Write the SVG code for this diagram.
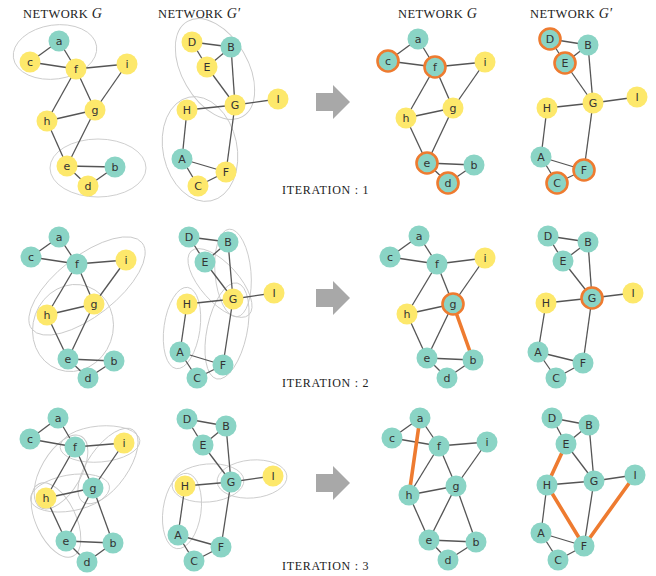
<svg xmlns="http://www.w3.org/2000/svg" width="656" height="576" viewBox="0 0 656 576">
<style>
.t{fill:#8ad4c5}
.y{fill:#fde86b}
.r{stroke:#ee7b30;stroke-width:2.6}
.lb{font-family:"DejaVu Sans",Verdana,sans-serif;font-size:11px;fill:#333;text-anchor:middle;dominant-baseline:central}
.e line{stroke:#555;stroke-width:1.3}
.o{stroke:#ee7b30 !important;stroke-width:3.6 !important;stroke-linecap:round}
.hull ellipse{fill:none;stroke:#c9c9c9;stroke-width:0.9}
.ttl{font-family:"Liberation Serif","Times New Roman",serif;font-size:12.5px;fill:#222;letter-spacing:0.4px}
.ttl tspan.it{font-style:italic;font-size:14px;letter-spacing:0}
.it2{font-family:"Liberation Serif","Times New Roman",serif;font-size:12px;fill:#222;letter-spacing:0.7px}
.arr{fill:#a8a8a8}
</style>

<g id="titles">
<text class="ttl" x="23" y="18">NETWORK <tspan class="it">G</tspan></text>
<text class="ttl" x="158" y="18">NETWORK <tspan class="it">G′</tspan></text>
<text class="ttl" x="398" y="18">NETWORK <tspan class="it">G</tspan></text>
<text class="ttl" x="530" y="18">NETWORK <tspan class="it">G′</tspan></text>
<text class="it2" x="282" y="194">ITERATION : 1</text>
<text class="it2" x="282" y="387">ITERATION : 2</text>
<text class="it2" x="282" y="570">ITERATION : 3</text>
</g>

<g id="arrows">
<polygon class="arr" points="316,93 333,93 333,85 350,102 333,119 333,111 316,111"/>
<polygon class="arr" points="316,289 333,289 333,281 350,298 333,315 333,307 316,307"/>
<polygon class="arr" points="316,474 333,474 333,466 350,483 333,500 333,492 316,492"/>
</g>

<!-- hulls -->
<g id="hulls" class="hull">
<ellipse cx="55" cy="52" rx="42" ry="27" transform="rotate(-8 55 52)"/>
<ellipse cx="98" cy="168" rx="48" ry="29"/>
<ellipse cx="215" cy="69" rx="55" ry="33" transform="rotate(60 215 69)"/>
<ellipse cx="200" cy="149" rx="37" ry="53" transform="rotate(-12 200 149)"/>

<ellipse cx="87" cy="286" rx="70" ry="30" transform="rotate(-38 87 286)"/>
<ellipse cx="73" cy="328" rx="40" ry="44" transform="rotate(20 73 328)"/>
<ellipse cx="220" cy="283" rx="43" ry="19" transform="rotate(48 220 283)"/>
<ellipse cx="233" cy="273" rx="18" ry="44" transform="rotate(-5 233 273)"/>
<ellipse cx="182" cy="328" rx="18" ry="41" transform="rotate(8 182 328)"/>
<ellipse cx="227" cy="331" rx="20" ry="49" transform="rotate(12 227 331)"/>

<ellipse cx="100" cy="444" rx="40" ry="18" transform="rotate(-5 100 444)"/>
<ellipse cx="61" cy="472" rx="41" ry="20" transform="rotate(-60 61 472)"/>
<ellipse cx="108" cy="466" rx="44" ry="20" transform="rotate(-55 108 466)"/>
<ellipse cx="70" cy="493" rx="40" ry="18" transform="rotate(-10 70 493)"/>
<ellipse cx="56" cy="520" rx="40" ry="20" transform="rotate(65 56 520)"/>
<ellipse cx="252" cy="479" rx="35" ry="19" transform="rotate(-5 252 479)"/>
<ellipse cx="208" cy="483" rx="36" ry="19" transform="rotate(-5 208 483)"/>
<ellipse cx="182" cy="511" rx="19" ry="38" transform="rotate(8 182 511)"/>
</g>

<g id="connectors" class="e">
<!-- row1 G -->
<line x1="59" y1="41" x2="30" y2="62"/><line x1="59" y1="41" x2="76" y2="69"/><line x1="30" y1="62" x2="76" y2="69"/>
<line x1="76" y1="69" x2="127" y2="64"/><line x1="76" y1="69" x2="47" y2="121"/><line x1="76" y1="69" x2="95" y2="110"/>
<line x1="127" y1="64" x2="95" y2="110"/><line x1="47" y1="121" x2="95" y2="110"/><line x1="47" y1="121" x2="67" y2="166"/>
<line x1="95" y1="110" x2="67" y2="166"/><line x1="67" y1="166" x2="115" y2="167"/><line x1="67" y1="166" x2="88" y2="186"/><line x1="88" y1="186" x2="115" y2="167"/>
<!-- row1 G' -->
<line x1="192" y1="42" x2="231" y2="47"/><line x1="192" y1="42" x2="207" y2="67"/><line x1="207" y1="67" x2="231" y2="47"/>
<line x1="231" y1="47" x2="235" y2="105"/><line x1="207" y1="67" x2="235" y2="105"/><line x1="235" y1="105" x2="278" y2="99"/>
<line x1="187" y1="110" x2="235" y2="105"/><line x1="187" y1="110" x2="182" y2="159"/><line x1="235" y1="105" x2="226" y2="172"/>
<line x1="182" y1="159" x2="226" y2="172"/><line x1="182" y1="159" x2="198" y2="186"/><line x1="198" y1="186" x2="226" y2="172"/>
<!-- row1 G right -->
<line x1="418" y1="39" x2="388" y2="61"/><line x1="418" y1="39" x2="435" y2="67"/><line x1="388" y1="61" x2="435" y2="67"/>
<line x1="435" y1="67" x2="485" y2="62"/><line x1="435" y1="67" x2="406" y2="118"/><line x1="435" y1="67" x2="453" y2="108"/>
<line x1="485" y1="62" x2="453" y2="108"/><line x1="406" y1="118" x2="453" y2="108"/><line x1="406" y1="118" x2="427" y2="163"/>
<line x1="453" y1="108" x2="427" y2="163"/><line x1="427" y1="163" x2="474" y2="165"/><line x1="427" y1="163" x2="448" y2="183"/><line x1="448" y1="183" x2="474" y2="165"/>
<!-- row1 G' right -->
<line x1="550" y1="39" x2="588" y2="45"/><line x1="550" y1="39" x2="565" y2="63"/><line x1="565" y1="63" x2="588" y2="45"/>
<line x1="588" y1="45" x2="593" y2="103"/><line x1="565" y1="63" x2="593" y2="103"/><line x1="593" y1="103" x2="637" y2="97"/>
<line x1="547" y1="108" x2="593" y2="103"/><line x1="547" y1="108" x2="541" y2="157"/><line x1="593" y1="103" x2="584" y2="170"/>
<line x1="541" y1="157" x2="584" y2="170"/><line x1="541" y1="157" x2="557" y2="183"/><line x1="557" y1="183" x2="584" y2="170"/>

<!-- row2 G -->
<line x1="59" y1="237" x2="31" y2="257"/><line x1="59" y1="237" x2="77" y2="264"/><line x1="31" y1="257" x2="77" y2="264"/>
<line x1="77" y1="264" x2="126" y2="260"/><line x1="77" y1="264" x2="47" y2="315"/><line x1="77" y1="264" x2="94" y2="304"/>
<line x1="126" y1="260" x2="94" y2="304"/><line x1="47" y1="315" x2="94" y2="304"/><line x1="47" y1="315" x2="68" y2="359"/>
<line x1="94" y1="304" x2="68" y2="359"/><line x1="68" y1="359" x2="114" y2="361"/><line x1="68" y1="359" x2="88" y2="378"/><line x1="88" y1="378" x2="114" y2="361"/>
<!-- row2 G' -->
<line x1="189" y1="237" x2="228" y2="242"/><line x1="189" y1="237" x2="205" y2="262"/><line x1="205" y1="262" x2="228" y2="242"/>
<line x1="228" y1="242" x2="233" y2="299"/><line x1="205" y1="262" x2="233" y2="299"/><line x1="233" y1="299" x2="274" y2="293"/>
<line x1="187" y1="304" x2="233" y2="299"/><line x1="187" y1="304" x2="180" y2="352"/><line x1="233" y1="299" x2="223" y2="365"/>
<line x1="180" y1="352" x2="223" y2="365"/><line x1="180" y1="352" x2="197" y2="378"/><line x1="197" y1="378" x2="223" y2="365"/>
<!-- row2 G right -->
<line x1="419" y1="236" x2="390" y2="257"/><line x1="419" y1="236" x2="437" y2="264"/><line x1="390" y1="257" x2="437" y2="264"/>
<line x1="437" y1="264" x2="485" y2="258"/><line x1="437" y1="264" x2="407" y2="314"/><line x1="437" y1="264" x2="453" y2="304"/>
<line x1="485" y1="258" x2="453" y2="304"/><line x1="407" y1="314" x2="453" y2="304"/><line x1="407" y1="314" x2="427" y2="358"/>
<line x1="453" y1="304" x2="427" y2="358"/><line x1="427" y1="358" x2="473" y2="360"/><line x1="427" y1="358" x2="447" y2="378"/><line x1="447" y1="378" x2="473" y2="360"/>
<line class="o" x1="453" y1="304" x2="473" y2="360"/>
<!-- row2 G' right -->
<line x1="548" y1="236" x2="588" y2="242"/><line x1="548" y1="236" x2="563" y2="261"/><line x1="563" y1="261" x2="588" y2="242"/>
<line x1="588" y1="242" x2="592" y2="298"/><line x1="563" y1="261" x2="592" y2="298"/><line x1="592" y1="298" x2="633" y2="293"/>
<line x1="546" y1="303" x2="592" y2="298"/><line x1="546" y1="303" x2="538" y2="352"/><line x1="592" y1="298" x2="583" y2="363"/>
<line x1="538" y1="352" x2="583" y2="363"/><line x1="538" y1="352" x2="556" y2="378"/><line x1="556" y1="378" x2="583" y2="363"/>

<!-- row3 G -->
<line x1="58" y1="418" x2="30" y2="439"/><line x1="58" y1="418" x2="75" y2="447"/><line x1="30" y1="439" x2="75" y2="447"/>
<line x1="75" y1="447" x2="124" y2="443"/><line x1="75" y1="447" x2="46" y2="498"/><line x1="75" y1="447" x2="93" y2="488"/>
<line x1="124" y1="443" x2="93" y2="488"/><line x1="46" y1="498" x2="93" y2="488"/><line x1="46" y1="498" x2="66" y2="541"/>
<line x1="93" y1="488" x2="66" y2="541"/><line x1="93" y1="488" x2="113" y2="543"/><line x1="66" y1="541" x2="113" y2="543"/><line x1="66" y1="541" x2="87" y2="562"/><line x1="87" y1="562" x2="113" y2="543"/>
<!-- row3 G' -->
<line x1="187" y1="419" x2="226" y2="426"/><line x1="187" y1="419" x2="203" y2="445"/><line x1="203" y1="445" x2="226" y2="426"/>
<line x1="226" y1="426" x2="231" y2="482"/><line x1="203" y1="445" x2="231" y2="482"/><line x1="231" y1="482" x2="273" y2="476"/>
<line x1="185" y1="486" x2="231" y2="482"/><line x1="185" y1="486" x2="178" y2="535"/><line x1="231" y1="482" x2="221" y2="547"/>
<line x1="178" y1="535" x2="221" y2="547"/><line x1="178" y1="535" x2="194" y2="561"/><line x1="194" y1="561" x2="221" y2="547"/>
<!-- row3 G right -->
<line x1="420" y1="418" x2="392" y2="438"/><line x1="420" y1="418" x2="439" y2="446"/><line x1="392" y1="438" x2="439" y2="446"/>
<line x1="439" y1="446" x2="487" y2="442"/><line x1="439" y1="446" x2="409" y2="495"/><line x1="439" y1="446" x2="456" y2="486"/>
<line x1="487" y1="442" x2="456" y2="486"/><line x1="409" y1="495" x2="456" y2="486"/><line x1="409" y1="495" x2="429" y2="540"/>
<line x1="456" y1="486" x2="429" y2="540"/><line x1="456" y1="486" x2="476" y2="542"/><line x1="429" y1="540" x2="476" y2="542"/><line x1="429" y1="540" x2="448" y2="560"/><line x1="448" y1="560" x2="476" y2="542"/>
<line class="o" x1="420" y1="418" x2="409" y2="495"/>
<!-- row3 G' right -->
<line x1="552" y1="418" x2="589" y2="425"/><line x1="552" y1="418" x2="566" y2="444"/><line x1="566" y1="444" x2="589" y2="425"/>
<line x1="589" y1="425" x2="594" y2="481"/><line x1="566" y1="444" x2="594" y2="481"/><line x1="594" y1="481" x2="635" y2="475"/>
<line x1="547" y1="485" x2="594" y2="481"/><line x1="547" y1="485" x2="541" y2="533"/><line x1="594" y1="481" x2="584" y2="546"/>
<line x1="541" y1="533" x2="584" y2="546"/><line x1="541" y1="533" x2="558" y2="560"/><line x1="558" y1="560" x2="584" y2="546"/>
<line class="o" x1="547" y1="485" x2="566" y2="444"/><line class="o" x1="547" y1="485" x2="584" y2="546"/><line class="o" x1="635" y1="475" x2="584" y2="546"/>
</g>

<!-- nodes row 1 -->
<g id="r1g-a"><circle class="t" cx="59" cy="41" r="10.5"/><text class="lb" x="59" y="41">a</text></g>
<g id="r1g-c"><circle class="y" cx="30" cy="62" r="10.5"/><text class="lb" x="30" y="62">c</text></g>
<g id="r1g-f"><circle class="y" cx="76" cy="69" r="10.5"/><text class="lb" x="76" y="69">f</text></g>
<g id="r1g-i"><circle class="y" cx="127" cy="64" r="10.5"/><text class="lb" x="127" y="64">i</text></g>
<g id="r1g-g"><circle class="y" cx="95" cy="110" r="10.5"/><text class="lb" x="95" y="110">g</text></g>
<g id="r1g-h"><circle class="y" cx="47" cy="121" r="10.5"/><text class="lb" x="47" y="121">h</text></g>
<g id="r1g-e"><circle class="y" cx="67" cy="166" r="10.5"/><text class="lb" x="67" y="166">e</text></g>
<g id="r1g-b"><circle class="t" cx="115" cy="167" r="10.5"/><text class="lb" x="115" y="167">b</text></g>
<g id="r1g-d"><circle class="y" cx="88" cy="186" r="10.5"/><text class="lb" x="88" y="186">d</text></g>

<g id="r1p-D"><circle class="y" cx="192" cy="42" r="10.5"/><text class="lb" x="192" y="42">D</text></g>
<g id="r1p-B"><circle class="t" cx="231" cy="47" r="10.5"/><text class="lb" x="231" y="47">B</text></g>
<g id="r1p-E"><circle class="y" cx="207" cy="67" r="10.5"/><text class="lb" x="207" y="67">E</text></g>
<g id="r1p-G"><circle class="y" cx="235" cy="105" r="10.5"/><text class="lb" x="235" y="105">G</text></g>
<g id="r1p-I"><circle class="y" cx="278" cy="99" r="10.5"/><text class="lb" x="278" y="99">I</text></g>
<g id="r1p-H"><circle class="y" cx="187" cy="110" r="10.5"/><text class="lb" x="187" y="110">H</text></g>
<g id="r1p-A"><circle class="t" cx="182" cy="159" r="10.5"/><text class="lb" x="182" y="159">A</text></g>
<g id="r1p-F"><circle class="y" cx="226" cy="172" r="10.5"/><text class="lb" x="226" y="172">F</text></g>
<g id="r1p-C"><circle class="y" cx="198" cy="186" r="10.5"/><text class="lb" x="198" y="186">C</text></g>

<g id="r1gr-a"><circle class="t" cx="418" cy="39" r="10.5"/><text class="lb" x="418" y="39">a</text></g>
<g id="r1gr-c"><circle class="t r" cx="388" cy="61" r="10.5"/><text class="lb" x="388" y="61">c</text></g>
<g id="r1gr-f"><circle class="t r" cx="435" cy="67" r="10.5"/><text class="lb" x="435" y="67">f</text></g>
<g id="r1gr-i"><circle class="y" cx="485" cy="62" r="10.5"/><text class="lb" x="485" y="62">i</text></g>
<g id="r1gr-g"><circle class="y" cx="453" cy="108" r="10.5"/><text class="lb" x="453" y="108">g</text></g>
<g id="r1gr-h"><circle class="y" cx="406" cy="118" r="10.5"/><text class="lb" x="406" y="118">h</text></g>
<g id="r1gr-e"><circle class="t r" cx="427" cy="163" r="10.5"/><text class="lb" x="427" y="163">e</text></g>
<g id="r1gr-b"><circle class="t" cx="474" cy="165" r="10.5"/><text class="lb" x="474" y="165">b</text></g>
<g id="r1gr-d"><circle class="t r" cx="448" cy="183" r="10.5"/><text class="lb" x="448" y="183">d</text></g>

<g id="r1pr-D"><circle class="t r" cx="550" cy="39" r="10.5"/><text class="lb" x="550" y="39">D</text></g>
<g id="r1pr-B"><circle class="t" cx="588" cy="45" r="10.5"/><text class="lb" x="588" y="45">B</text></g>
<g id="r1pr-E"><circle class="t r" cx="565" cy="63" r="10.5"/><text class="lb" x="565" y="63">E</text></g>
<g id="r1pr-G"><circle class="y" cx="593" cy="103" r="10.5"/><text class="lb" x="593" y="103">G</text></g>
<g id="r1pr-I"><circle class="y" cx="637" cy="97" r="10.5"/><text class="lb" x="637" y="97">I</text></g>
<g id="r1pr-H"><circle class="y" cx="547" cy="108" r="10.5"/><text class="lb" x="547" y="108">H</text></g>
<g id="r1pr-A"><circle class="t" cx="541" cy="157" r="10.5"/><text class="lb" x="541" y="157">A</text></g>
<g id="r1pr-F"><circle class="t r" cx="584" cy="170" r="10.5"/><text class="lb" x="584" y="170">F</text></g>
<g id="r1pr-C"><circle class="t r" cx="557" cy="183" r="10.5"/><text class="lb" x="557" y="183">C</text></g>

<!-- nodes row 2 -->
<g id="r2g-a"><circle class="t" cx="59" cy="237" r="10.5"/><text class="lb" x="59" y="237">a</text></g>
<g id="r2g-c"><circle class="t" cx="31" cy="257" r="10.5"/><text class="lb" x="31" y="257">c</text></g>
<g id="r2g-f"><circle class="t" cx="77" cy="264" r="10.5"/><text class="lb" x="77" y="264">f</text></g>
<g id="r2g-i"><circle class="y" cx="126" cy="260" r="10.5"/><text class="lb" x="126" y="260">i</text></g>
<g id="r2g-g"><circle class="y" cx="94" cy="304" r="10.5"/><text class="lb" x="94" y="304">g</text></g>
<g id="r2g-h"><circle class="y" cx="47" cy="315" r="10.5"/><text class="lb" x="47" y="315">h</text></g>
<g id="r2g-e"><circle class="t" cx="68" cy="359" r="10.5"/><text class="lb" x="68" y="359">e</text></g>
<g id="r2g-b"><circle class="t" cx="114" cy="361" r="10.5"/><text class="lb" x="114" y="361">b</text></g>
<g id="r2g-d"><circle class="t" cx="88" cy="378" r="10.5"/><text class="lb" x="88" y="378">d</text></g>

<g id="r2p-D"><circle class="t" cx="189" cy="237" r="10.5"/><text class="lb" x="189" y="237">D</text></g>
<g id="r2p-B"><circle class="t" cx="228" cy="242" r="10.5"/><text class="lb" x="228" y="242">B</text></g>
<g id="r2p-E"><circle class="t" cx="205" cy="262" r="10.5"/><text class="lb" x="205" y="262">E</text></g>
<g id="r2p-G"><circle class="y" cx="233" cy="299" r="10.5"/><text class="lb" x="233" y="299">G</text></g>
<g id="r2p-I"><circle class="y" cx="274" cy="293" r="10.5"/><text class="lb" x="274" y="293">I</text></g>
<g id="r2p-H"><circle class="y" cx="187" cy="304" r="10.5"/><text class="lb" x="187" y="304">H</text></g>
<g id="r2p-A"><circle class="t" cx="180" cy="352" r="10.5"/><text class="lb" x="180" y="352">A</text></g>
<g id="r2p-F"><circle class="t" cx="223" cy="365" r="10.5"/><text class="lb" x="223" y="365">F</text></g>
<g id="r2p-C"><circle class="t" cx="197" cy="378" r="10.5"/><text class="lb" x="197" y="378">C</text></g>

<g id="r2gr-a"><circle class="t" cx="419" cy="236" r="10.5"/><text class="lb" x="419" y="236">a</text></g>
<g id="r2gr-c"><circle class="t" cx="390" cy="257" r="10.5"/><text class="lb" x="390" y="257">c</text></g>
<g id="r2gr-f"><circle class="t" cx="437" cy="264" r="10.5"/><text class="lb" x="437" y="264">f</text></g>
<g id="r2gr-i"><circle class="y" cx="485" cy="258" r="10.5"/><text class="lb" x="485" y="258">i</text></g>
<g id="r2gr-g"><circle class="t r" cx="453" cy="304" r="10.5"/><text class="lb" x="453" y="304">g</text></g>
<g id="r2gr-h"><circle class="y" cx="407" cy="314" r="10.5"/><text class="lb" x="407" y="314">h</text></g>
<g id="r2gr-e"><circle class="t" cx="427" cy="358" r="10.5"/><text class="lb" x="427" y="358">e</text></g>
<g id="r2gr-b"><circle class="t" cx="473" cy="360" r="10.5"/><text class="lb" x="473" y="360">b</text></g>
<g id="r2gr-d"><circle class="t" cx="447" cy="378" r="10.5"/><text class="lb" x="447" y="378">d</text></g>

<g id="r2pr-D"><circle class="t" cx="548" cy="236" r="10.5"/><text class="lb" x="548" y="236">D</text></g>
<g id="r2pr-B"><circle class="t" cx="588" cy="242" r="10.5"/><text class="lb" x="588" y="242">B</text></g>
<g id="r2pr-E"><circle class="t" cx="563" cy="261" r="10.5"/><text class="lb" x="563" y="261">E</text></g>
<g id="r2pr-G"><circle class="t r" cx="592" cy="298" r="10.5"/><text class="lb" x="592" y="298">G</text></g>
<g id="r2pr-I"><circle class="y" cx="633" cy="293" r="10.5"/><text class="lb" x="633" y="293">I</text></g>
<g id="r2pr-H"><circle class="y" cx="546" cy="303" r="10.5"/><text class="lb" x="546" y="303">H</text></g>
<g id="r2pr-A"><circle class="t" cx="538" cy="352" r="10.5"/><text class="lb" x="538" y="352">A</text></g>
<g id="r2pr-F"><circle class="t" cx="583" cy="363" r="10.5"/><text class="lb" x="583" y="363">F</text></g>
<g id="r2pr-C"><circle class="t" cx="556" cy="378" r="10.5"/><text class="lb" x="556" y="378">C</text></g>

<!-- nodes row 3 -->
<g id="r3g-a"><circle class="t" cx="58" cy="418" r="10.5"/><text class="lb" x="58" y="418">a</text></g>
<g id="r3g-c"><circle class="t" cx="30" cy="439" r="10.5"/><text class="lb" x="30" y="439">c</text></g>
<g id="r3g-f"><circle class="t" cx="75" cy="447" r="10.5"/><text class="lb" x="75" y="447">f</text></g>
<g id="r3g-i"><circle class="y" cx="124" cy="443" r="10.5"/><text class="lb" x="124" y="443">i</text></g>
<g id="r3g-g"><circle class="t" cx="93" cy="488" r="10.5"/><text class="lb" x="93" y="488">g</text></g>
<g id="r3g-h"><circle class="y" cx="46" cy="498" r="10.5"/><text class="lb" x="46" y="498">h</text></g>
<g id="r3g-e"><circle class="t" cx="66" cy="541" r="10.5"/><text class="lb" x="66" y="541">e</text></g>
<g id="r3g-b"><circle class="t" cx="113" cy="543" r="10.5"/><text class="lb" x="113" y="543">b</text></g>
<g id="r3g-d"><circle class="t" cx="87" cy="562" r="10.5"/><text class="lb" x="87" y="562">d</text></g>

<g id="r3p-D"><circle class="t" cx="187" cy="419" r="10.5"/><text class="lb" x="187" y="419">D</text></g>
<g id="r3p-B"><circle class="t" cx="226" cy="426" r="10.5"/><text class="lb" x="226" y="426">B</text></g>
<g id="r3p-E"><circle class="t" cx="203" cy="445" r="10.5"/><text class="lb" x="203" y="445">E</text></g>
<g id="r3p-G"><circle class="t" cx="231" cy="482" r="10.5"/><text class="lb" x="231" y="482">G</text></g>
<g id="r3p-I"><circle class="y" cx="273" cy="476" r="10.5"/><text class="lb" x="273" y="476">I</text></g>
<g id="r3p-H"><circle class="y" cx="185" cy="486" r="10.5"/><text class="lb" x="185" y="486">H</text></g>
<g id="r3p-A"><circle class="t" cx="178" cy="535" r="10.5"/><text class="lb" x="178" y="535">A</text></g>
<g id="r3p-F"><circle class="t" cx="221" cy="547" r="10.5"/><text class="lb" x="221" y="547">F</text></g>
<g id="r3p-C"><circle class="t" cx="194" cy="561" r="10.5"/><text class="lb" x="194" y="561">C</text></g>

<g id="r3gr-a"><circle class="t" cx="420" cy="418" r="10.5"/><text class="lb" x="420" y="418">a</text></g>
<g id="r3gr-c"><circle class="t" cx="392" cy="438" r="10.5"/><text class="lb" x="392" y="438">c</text></g>
<g id="r3gr-f"><circle class="t" cx="439" cy="446" r="10.5"/><text class="lb" x="439" y="446">f</text></g>
<g id="r3gr-i"><circle class="t" cx="487" cy="442" r="10.5"/><text class="lb" x="487" y="442">i</text></g>
<g id="r3gr-g"><circle class="t" cx="456" cy="486" r="10.5"/><text class="lb" x="456" y="486">g</text></g>
<g id="r3gr-h"><circle class="t" cx="409" cy="495" r="10.5"/><text class="lb" x="409" y="495">h</text></g>
<g id="r3gr-e"><circle class="t" cx="429" cy="540" r="10.5"/><text class="lb" x="429" y="540">e</text></g>
<g id="r3gr-b"><circle class="t" cx="476" cy="542" r="10.5"/><text class="lb" x="476" y="542">b</text></g>
<g id="r3gr-d"><circle class="t" cx="448" cy="560" r="10.5"/><text class="lb" x="448" y="560">d</text></g>

<g id="r3pr-D"><circle class="t" cx="552" cy="418" r="10.5"/><text class="lb" x="552" y="418">D</text></g>
<g id="r3pr-B"><circle class="t" cx="589" cy="425" r="10.5"/><text class="lb" x="589" y="425">B</text></g>
<g id="r3pr-E"><circle class="t" cx="566" cy="444" r="10.5"/><text class="lb" x="566" y="444">E</text></g>
<g id="r3pr-G"><circle class="t" cx="594" cy="481" r="10.5"/><text class="lb" x="594" y="481">G</text></g>
<g id="r3pr-I"><circle class="t" cx="635" cy="475" r="10.5"/><text class="lb" x="635" y="475">I</text></g>
<g id="r3pr-H"><circle class="t" cx="547" cy="485" r="10.5"/><text class="lb" x="547" y="485">H</text></g>
<g id="r3pr-A"><circle class="t" cx="541" cy="533" r="10.5"/><text class="lb" x="541" y="533">A</text></g>
<g id="r3pr-F"><circle class="t" cx="584" cy="546" r="10.5"/><text class="lb" x="584" y="546">F</text></g>
<g id="r3pr-C"><circle class="t" cx="558" cy="560" r="10.5"/><text class="lb" x="558" y="560">C</text></g>
</svg>
